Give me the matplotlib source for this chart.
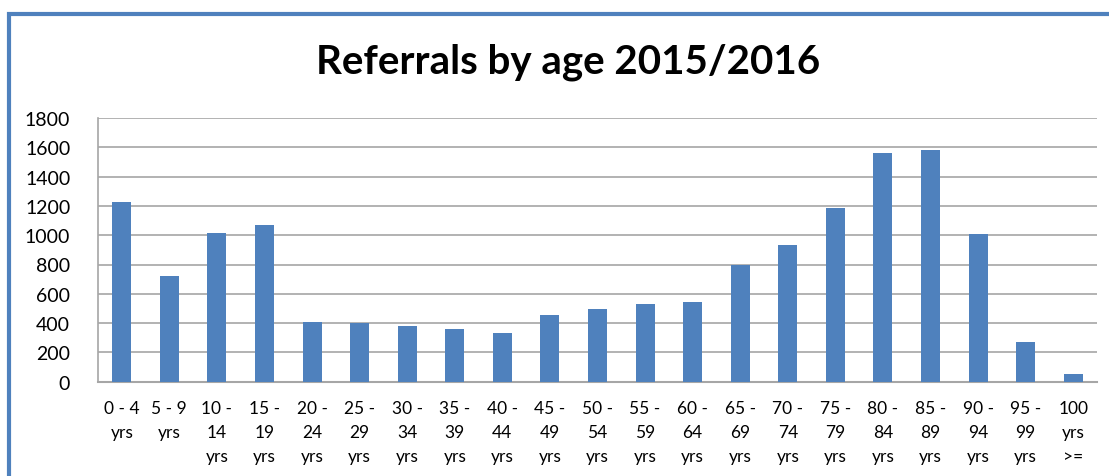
import numpy as np
import matplotlib.pyplot as plt
from matplotlib.patches import Rectangle

# age bands and referral counts
age_bands = ["0 - 4\nyrs", "5 - 9\nyrs", "10 -\n14\nyrs", "15 -\n19\nyrs", "20 -\n24\nyrs",
             "25 -\n29\nyrs", "30 -\n34\nyrs", "35 -\n39\nyrs", "40 -\n44\nyrs", "45 -\n49\nyrs",
             "50 -\n54\nyrs", "55 -\n59\nyrs", "60 -\n64\nyrs", "65 -\n69\nyrs", "70 -\n74\nyrs",
             "75 -\n79\nyrs", "80 -\n84\nyrs", "85 -\n89\nyrs", "90 -\n94\nyrs", "95 -\n99\nyrs",
             "100\nyrs\n>="]
referrals = [1228, 720, 1015, 1070, 407, 400, 383, 357, 334, 455,
             495, 527, 543, 799, 935, 1186, 1561, 1584, 1006, 269, 50]
y_ticks = [0, 200, 400, 600, 800, 1000, 1200, 1400, 1600, 1800]

BLUE = '#4F81BD'
GRID = '#A6A6A6'

plt.rcParams['font.family'] = ['Lato', 'DejaVu Sans']

fig = plt.figure(figsize=(11.09, 4.77), dpi=100)

# chart frame (blue border at top/left, open on the right/bottom like the crop)
frame = Rectangle((9 / 1109, -0.05), 1.2, 1 - 15 / 477 + 0.05, transform=fig.transFigure,
                  fill=False, edgecolor=BLUE, linewidth=3, clip_on=False)
fig.patches.append(frame)

ax = fig.add_axes([98 / 1109, (477 - 382.7) / 477, (1097 - 98) / 1109, (382.7 - 119) / 477])

x = np.arange(len(referrals))
ax.bar(x, referrals, width=0.4, color=BLUE, zorder=3)

ax.set_xlim(-0.5, len(referrals) - 0.5)
ax.set_ylim(0, 1800)
ax.set_yticks(y_ticks)
ax.set_yticklabels([str(t) for t in y_ticks], fontsize=14)
ax.set_xticks(x)
ax.set_xticklabels(age_bands, fontsize=12.5, linespacing=1.62)
ax.tick_params(axis='x', length=0, pad=13)
ax.tick_params(axis='y', length=0, pad=20)

ax.grid(axis='y', color=GRID, linewidth=1.2, zorder=0)
for side in ['top', 'right']:
    ax.spines[side].set_visible(False)
ax.spines['left'].set_color(GRID)
ax.spines['bottom'].set_color(GRID)
ax.spines['left'].set_linewidth(1.2)
ax.spines['bottom'].set_linewidth(1.5)

fig.text(568 / 1109, 1 - 62 / 477, 'Referrals by age 2015/2016', ha='center', va='center',
         fontsize=29, fontweight='bold')

plt.savefig('out.png', dpi=100)
